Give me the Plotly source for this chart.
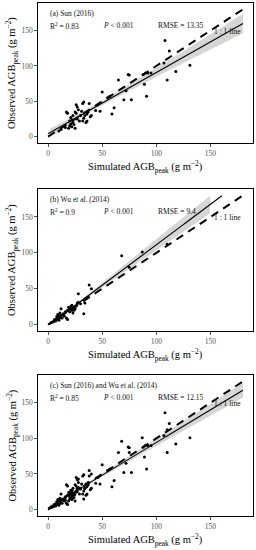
import numpy as np
import plotly.graph_objects as go

# ---------------- data ----------------
sun_sim = [10, 12, 16, 17, 18, 19, 20, 20, 21, 21, 22, 22, 23, 23, 24, 25, 25, 26, 26, 27,
           27, 28, 29, 30, 31, 32, 32, 33, 33, 34, 35, 36, 36, 37, 38, 39, 40, 44, 46, 48,
           50, 55, 57, 59, 61, 65, 70, 72, 74, 75, 77, 88, 89, 90, 91, 92, 95, 107, 108, 110,
           112, 118, 131]
sun_obs = [8, 10, 13, 35, 33, 12, 22, 15, 18, 27, 14, 24, 20, 30, 17, 12, 35, 33, 45, 42,
           25, 38, 22, 30, 36, 47, 22, 49, 26, 30, 20, 22, 32, 35, 47, 28, 30, 37, 45, 36,
           63, 55, 57, 32, 41, 80, 52, 65, 88, 87, 52, 88, 74, 90, 57, 90, 90, 104, 136, 80,
           121, 92, 101]

wu_sim = [3, 5, 6, 7, 8, 8, 9, 9, 10, 10, 11, 11, 12, 12, 13, 14, 15, 16, 17, 18,
          18, 19, 20, 20, 21, 22, 22, 23, 24, 25, 26, 27, 28, 28, 30, 33, 34, 35, 37, 38,
          40, 68, 75, 87, 110]
wu_obs = [3, 4, 7, 5, 8, 11, 14, 7, 12, 6, 16, 9, 22, 13, 9, 15, 12, 18, 9, 7,
          20, 24, 22, 18, 25, 27, 20, 16, 20, 22, 26, 30, 43, 31, 29, 15, 30, 36, 38, 55,
          50, 96, 80, 101, 112]

panel_titles = ["(a) Sun (2016)", "(b) Wu et al. (2014)", "(c) Sun (2016) and Wu et al. (2014)"]
r2_labels = ["0.83", "0.9", "0.85"]
p_labels = ["0.001", "0.001", "0.001"]
rmse_labels = ["13.35", "9.4", "12.15"]
tick_vals = [0, 50, 100, 150]
limits = [0, 180]

panels = [
    (sun_sim, sun_obs),
    (wu_sim, wu_obs),
    (sun_sim + wu_sim, sun_obs + wu_obs),
]

FONT = "Liberation Serif"
W, H = 256, 550
# panel boxes in pixels (top, bottom)
panel_px = [(3, 143), (189, 331), (375, 516)]
x_px = (38.3, 252.7)
x_domain = [x_px[0] / W, x_px[1] / W]


def t_quantile(df, z=1.959964):
    # Cornish-Fisher expansion of Student t 97.5% quantile
    g1 = (z**3 + z) / 4
    g2 = (5 * z**5 + 16 * z**3 + 3 * z) / 96
    return z + g1 / df + g2 / df**2


def lm_band(x, y, grid):
    x = np.asarray(x, float)
    y = np.asarray(y, float)
    n = len(x)
    b, a = np.polyfit(x, y, 1)
    res = y - (a + b * x)
    s = np.sqrt(np.sum(res**2) / (n - 2))
    sxx = np.sum((x - x.mean())**2)
    fit = a + b * grid
    se = s * np.sqrt(1.0 / n + (grid - x.mean())**2 / sxx)
    t = t_quantile(n - 2)
    return fit, fit - t * se, fit + t * se


fig = go.Figure()
grid = np.linspace(limits[0], limits[1], 361)

x_title = "Simulated AGB<sub>peak</sub> (g m<sup>\u22122</sup>)"
y_title = "Observed AGB<sub>peak</sub> (g m<sup>\u22122</sup>)"

for i, (xs, ys) in enumerate(panels):
    sfx = "" if i == 0 else str(i + 1)
    xa, ya = "x" + sfx, "y" + sfx
    fit, lo, hi = lm_band(xs, ys, grid)
    # ggplot-style scale limits: out-of-range values become NA
    ok_band = (lo >= limits[0]) & (hi <= limits[1])
    fit_l = np.where((fit >= limits[0]) & (fit <= limits[1]), fit, np.nan)
    gb = grid[ok_band]
    fig.add_trace(go.Scatter(
        x=np.concatenate([gb, gb[::-1]]),
        y=np.concatenate([lo[ok_band], hi[ok_band][::-1]]),
        fill="toself", fillcolor="rgba(153,153,153,0.4)", line=dict(width=0),
        mode="lines", hoverinfo="skip", showlegend=False, xaxis=xa, yaxis=ya))
    fig.add_trace(go.Scatter(
        x=xs, y=ys, mode="markers",
        marker=dict(color="black", size=3),
        showlegend=False, xaxis=xa, yaxis=ya))
    fig.add_trace(go.Scatter(
        x=limits, y=limits, mode="lines",
        line=dict(color="black", width=2, dash="8px,6px"),
        showlegend=False, xaxis=xa, yaxis=ya))
    fig.add_trace(go.Scatter(
        x=grid, y=fit_l, mode="lines",
        line=dict(color="black", width=1.1),
        showlegend=False, xaxis=xa, yaxis=ya))

    top, bot = panel_px[i]
    axis_common = dict(
        range=[-9, 189], tickvals=tick_vals, ticks="outside", ticklen=3, tickwidth=1,
        tickcolor="#555555", tickfont=dict(family=FONT, size=7.5, color="#555555"),
        showline=True, mirror=True, linecolor="black", linewidth=1.2,
        showgrid=False, zeroline=False, automargin=False,
    )
    fig.update_layout(**{
        ("xaxis" + sfx): dict(axis_common, domain=x_domain, anchor=ya),
        ("yaxis" + sfx): dict(axis_common, domain=[1 - bot / H, 1 - top / H], anchor=xa),
    })

    # axis titles
    tfont = dict(family=FONT, size=10.5, color="black")
    fig.add_annotation(x=(x_px[0] + x_px[1]) / 2 / W, y=1 - (bot + 24) / H,
                       xref="paper", yref="paper", text=x_title, showarrow=False,
                       xanchor="center", yanchor="middle", font=tfont)
    fig.add_annotation(x=12 / W, y=1 - (top + bot) / 2 / H,
                       xref="paper", yref="paper", text=y_title, showarrow=False,
                       textangle=-90, xanchor="center", yanchor="middle", font=tfont)

    tf = dict(family=FONT, size=7.5, color="#111111")
    fig.add_annotation(x=0, y=174, xref=xa, yref=ya, text=panel_titles[i],
                       showarrow=False, xanchor="left", font=tf)
    fig.add_annotation(x=0, y=157, xref=xa, yref=ya, text="R<sup>2</sup> = " + r2_labels[i],
                       showarrow=False, xanchor="left", font=tf)
    fig.add_annotation(x=49, y=157, xref=xa, yref=ya, text="<i>P</i> < " + p_labels[i],
                       showarrow=False, xanchor="left", font=tf)
    fig.add_annotation(x=100, y=157, xref=xa, yref=ya, text="RMSE = " + rmse_labels[i],
                       showarrow=False, xanchor="left", font=tf)
    fig.add_annotation(x=180, y=149, xref=xa, yref=ya, text="1 : 1 line",
                       showarrow=False, xanchor="right", font=tf)

fig.update_layout(
    width=W, height=H, margin=dict(l=0, r=0, t=0, b=0),
    paper_bgcolor="white", plot_bgcolor="white",
)
fig.write_html(
    "out.html",
    config={"displayModeBar": False},
    post_script="document.body.style.margin='0';document.body.style.overflow='hidden';",
)
